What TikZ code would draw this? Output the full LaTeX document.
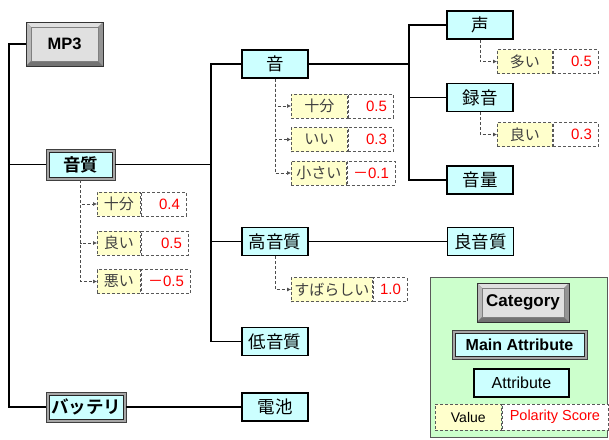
\documentclass[tikz,border=0pt]{standalone}
\usepackage{fontspec}
\setmainfont{Liberation Sans}
\newfontfamily\jp{Noto Sans CJK JP}[BoldFont={Noto Sans CJK JP Bold}]
\usetikzlibrary{arrows.meta}
\definecolor{cyanbg}{HTML}{CCFFFF}
\definecolor{valbg}{HTML}{FFFFCC}
\definecolor{legbg}{HTML}{CCFFCC}
\definecolor{scorered}{HTML}{FF0000}
\tikzset{
 conn/.style={line width=1.6pt, black},
 dconn/.style={densely dashed, line width=0.6pt, black!70, -{Latex[length=4pt,width=4pt]}},
 attr/.style={draw=black, line width=1.1pt, fill=cyanbg, minimum width=66pt, minimum height=28pt, inner sep=0pt, font=\jp\fontsize{17.5}{17.5}\selectfont},
 mainattr/.style={fill=black!35, draw=black!75, line width=0.8pt, inner sep=0pt, font=\jp\bfseries\fontsize{17.5}{17.5}\selectfont,
   path picture={\fill[cyanbg, draw=black!85, line width=0.9pt] ([shift={(3pt,-3pt)}]path picture bounding box.north west) rectangle ([shift={(-3pt,3pt)}]path picture bounding box.south east);}},
 catbox/.style={draw=black!80, line width=0.6pt, fill=black!45, inner sep=0pt, font=\bfseries\fontsize{16.5}{16.5}\selectfont,
   path picture={
    \fill[black!12] (path picture bounding box.north west) -- (path picture bounding box.north east) -- ([shift={(-5pt,-5pt)}]path picture bounding box.north east) -- ([shift={(5pt,-5pt)}]path picture bounding box.north west) -- cycle;
    \fill[black!28] (path picture bounding box.north west) -- (path picture bounding box.south west) -- ([shift={(5pt,5pt)}]path picture bounding box.south west) -- ([shift={(5pt,-5pt)}]path picture bounding box.north west) -- cycle;
    \fill[black!55] (path picture bounding box.south west) -- (path picture bounding box.south east) -- ([shift={(-5pt,5pt)}]path picture bounding box.south east) -- ([shift={(5pt,5pt)}]path picture bounding box.south west) -- cycle;
    \fill[black!42] (path picture bounding box.north east) -- (path picture bounding box.south east) -- ([shift={(-5pt,5pt)}]path picture bounding box.south east) -- ([shift={(-5pt,-5pt)}]path picture bounding box.north east) -- cycle;
    \fill[black!12, draw=black!50, line width=0.4pt] ([shift={(5pt,-5pt)}]path picture bounding box.north west) rectangle ([shift={(-5pt,5pt)}]path picture bounding box.south east);}},
 valnode/.style={draw=black!65, densely dashed, line width=0.6pt, fill=valbg, minimum height=24pt, inner sep=0pt, anchor=west, text=black!75, font=\jp\fontsize{15}{15}\selectfont},
 scorenode/.style={draw=black!65, densely dashed, line width=0.6pt, fill=white, minimum height=24pt, inner xsep=6pt, inner ysep=0pt, anchor=west, align=right, text=scorered, font=\fontsize{15}{15}\selectfont},
 legendbox/.style={draw=black!65, line width=0.8pt, fill=legbg, minimum width=177pt, minimum height=160pt, inner sep=0pt}
}
\newcommand\valpair[7]{%
 \node[valnode, minimum width=#4pt] (#1) at (#2,#3) {#5};
 \node[scorenode, text width=#6pt] (#1s) at (#1.east) {#7};}
\begin{document}
\begin{tikzpicture}[x=1pt,y=-1pt]
\useasboundingbox (0,0) rectangle (609,439);
% legend background
\node[legendbox] (legend) at (518.5,357) {};
% categories and attributes
\node[catbox, minimum width=77pt, minimum height=44pt] (mp3) at (64.5,44) {MP3};
\node[mainattr, minimum width=69pt, minimum height=31pt] (onshitsu) at (80.5,164.5) {音質};
\node[mainattr, minimum width=80pt, minimum height=30pt] (battery) at (86,407) {バッテリ};
\node[attr] (on) at (275,64) {音};
\node[attr] (koe) at (480,25) {声};
\node[attr] (rokuon) at (480,97.5) {録音};
\node[attr] (onryo) at (480,180) {音量};
\node[attr] (kou) at (275,241.5) {高音質};
\node[attr] (ryou) at (480.5,241.5) {良音質};
\node[attr] (tei) at (275,341.5) {低音質};
\node[attr] (denchi) at (275,407) {電池};
% values
\valpair{va}{97}{204}{43}{十分}{33}{0.4}
\valpair{vb}{97}{243}{43}{良い}{35}{0.5}
\valpair{vc}{97}{281.5}{43}{悪い}{37}{{\jp －}0.5}
\valpair{vd}{291}{106}{56}{十分}{33}{0.5}
\valpair{ve}{291}{139.5}{56}{いい}{33}{0.3}
\valpair{vf}{291}{173}{55}{小さい}{36}{{\jp －}0.1}
\valpair{vg}{497}{61.5}{55}{多い}{33}{0.5}
\valpair{vh}{497}{134.5}{55}{良い}{33}{0.3}
\valpair{vi}{291}{289.5}{81}{すばらしい}{22}{1.0}
% trunk connectors
\coordinate (t1) at (9,44);
\draw[conn] (mp3.west) -- (t1) |- (battery.west);
\draw[conn] (onshitsu.west) -- (onshitsu.west -| t1);
\coordinate (t2) at (211,64);
\draw[conn] (onshitsu.east) -- (onshitsu.east -| t2);
\draw[conn] (on.west) -- (t2) |- (tei.west);
\draw[conn] (kou.west) -- (kou.west -| t2);
\coordinate (t3) at (409,25);
\draw[conn] (koe.west) -- (t3) |- (onryo.west);
\draw[conn] (on.east) -- (on.east -| t3);
\draw[conn] (rokuon.west) -- (rokuon.west -| t3);
\draw[conn] (kou.east) -- (ryou.west);
\draw[conn] (battery.east) -- (denchi.west);
% dashed value connectors
\draw[dconn] (onshitsu.south) |- (va.west);
\draw[dconn] (onshitsu.south) |- (vb.west);
\draw[dconn] (onshitsu.south) |- (vc.west);
\draw[dconn] (on.south) |- (vd.west);
\draw[dconn] (on.south) |- (ve.west);
\draw[dconn] (on.south) |- (vf.west);
\draw[dconn] (koe.south) |- (vg.west);
\draw[dconn] (rokuon.south) |- (vh.west);
\draw[dconn] (kou.south) |- (vi.west);
% legend
\node[catbox, minimum width=92pt, minimum height=39pt, font=\bfseries\fontsize{17}{17}\selectfont] (lcat) at (523,302.5) {Category};
\node[mainattr, minimum width=135pt, minimum height=29pt, font=\bfseries\fontsize{16}{16}\selectfont] (lmain) at (519.5,344.5) {Main Attribute};
\node[attr, minimum width=95pt, font=\fontsize{16}{16}\selectfont] (lattr) at (521.5,383) {Attribute};
\node[valnode, minimum width=66pt, minimum height=26pt, text=black, font=\fontsize{14}{14}\selectfont] (lval) at (435,417) {Value};
\node[scorenode, minimum height=26pt, minimum width=106pt, inner xsep=0pt, align=center, font=\fontsize{14.5}{14.5}\selectfont] (lpol) at (lval.east) {Polarity Score};
\end{tikzpicture}
\end{document}
